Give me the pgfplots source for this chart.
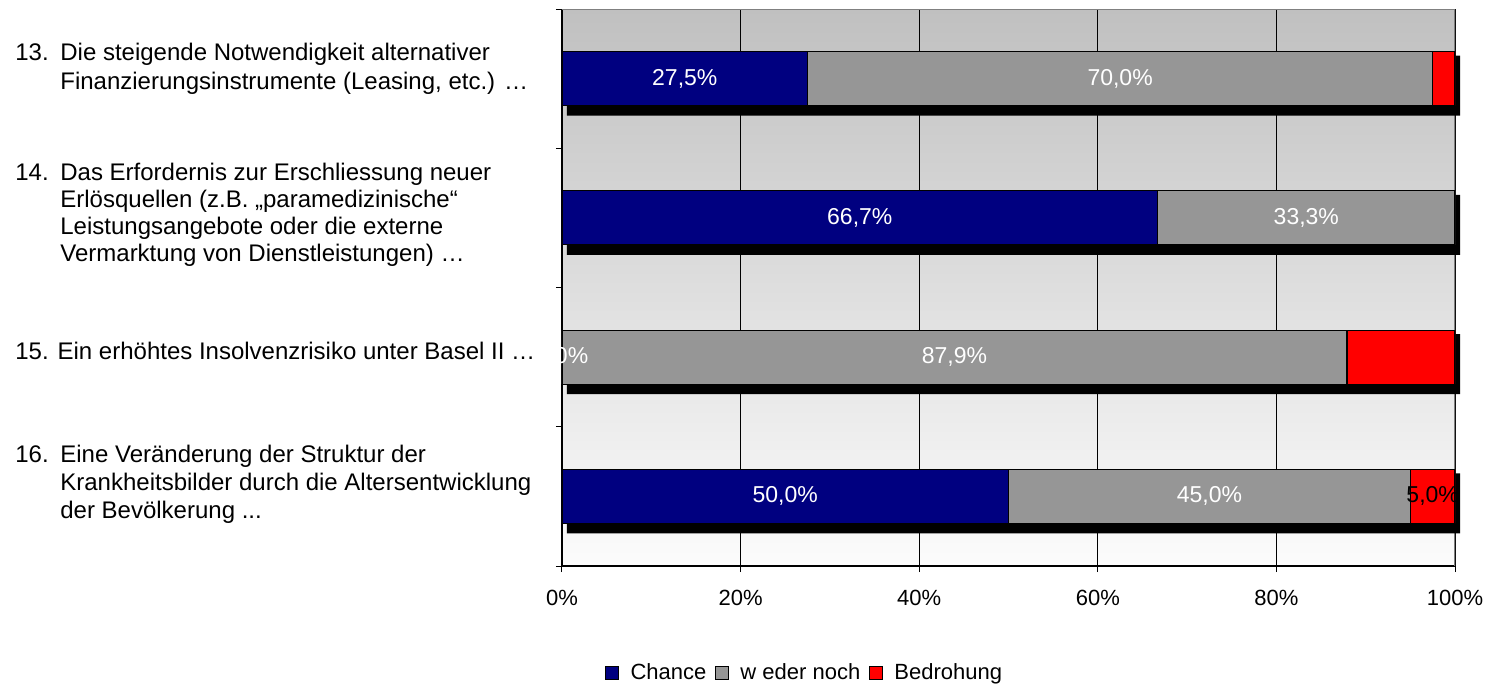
\documentclass[border=0pt]{standalone}
\usepackage{pgfplots}
\pgfplotsset{compat=1.18}
\usepackage{fontspec}
\setmainfont{Liberation Sans}

\definecolor{chance}{HTML}{000080}
\definecolor{weder}{HTML}{969696}
\definecolor{bedroh}{HTML}{FF0000}
\definecolor{bgtop}{HTML}{C0C0C0}
\definecolor{bgbot}{HTML}{FCFCFC}
\definecolor{boxgray}{HTML}{808080}

\newcommand\lblfont{\fontsize{11.5}{13}\selectfont}
\newcommand\tickfont{\fontsize{11}{13}\selectfont}
\newcommand\itemfont{\fontsize{12}{14}\selectfont}

\pgfplotsset{
  base/.style={
    anchor=south west,
    scale only axis, width=446.5pt, height=278.5pt,
    xmin=0, xmax=100, ymin=-0.5, ymax=3.5,
  },
}

\begin{document}
\begin{tikzpicture}
\path[use as bounding box] (-281pt,-60pt) rectangle (466pt,283pt);

% frame, background, grid and ticks
\begin{axis}[base, at={(0,0)},
  axis x line*=bottom, axis y line*=left,
  axis line style={black, line width=0.6pt, -},
  xtick={0,20,40,60,80,100},
  xticklabels={0\%,20\%,40\%,60\%,80\%,100\%},
  ytick={-0.5,0.5,1.5,2.5,3.5}, yticklabels={},
  tick align=outside, major tick length=3pt,
  tick style={black, line width=0.5pt},
  xmajorgrids, major x grid style={black, line width=0.5pt},
  axis background/.style={top color=bgtop, bottom color=bgbot},
  xticklabel style={font=\tickfont, yshift=-5.5pt},
]
\draw[boxgray, line width=1pt] (rel axis cs:0,1) -- (rel axis cs:1,1) -- (rel axis cs:1,0);
\end{axis}

% solid drop shadow behind each bar (total = 100 %)
\begin{axis}[base, at={(2.5pt,-3.5pt)}, hide axis, clip=false,
  xbar, bar width=30pt]
\addplot[fill=black, draw=none] coordinates {(100,3) (100,2) (100,1) (100,0)};
\end{axis}

% stacked shares
\begin{axis}[base, at={(0,0)}, hide axis,
  xbar stacked, bar width=27pt,
  legend image code/.code={
    \draw[#1, draw=black, line width=0.5pt] (0pt,-3.25pt) rectangle (6.5pt,3.25pt);
    \path (10pt,0pt);},
  legend style={at={(0.273,-0.192)}, anchor=center, draw=none, fill=none,
    legend columns=-1, font=\fontsize{11}{13}\selectfont,
    /tikz/every even column/.append style={column sep=2.5pt}},
]
% y: 3 = item 13, 2 = item 14, 1 = item 15, 0 = item 16
\addplot[fill=chance, draw=black, line width=0.6pt]
  coordinates {(27.5,3) (66.7,2) (0,1) (50.0,0)};
\addlegendentry{Chance}
\addplot[fill=weder, draw=black, line width=0.6pt]
  coordinates {(70.0,3) (33.3,2) (87.9,1) (45.0,0)};
\addlegendentry{w eder noch}
\addplot[fill=bedroh, draw=black, line width=0.6pt]
  coordinates {(2.5,3) (0,2) (12.1,1) (5.0,0)};
\addlegendentry{Bedrohung}

% anchors for the share labels (segment centres)
\coordinate (a1) at (axis cs:13.75,3);
\coordinate (a2) at (axis cs:62.5,3);
\coordinate (b1) at (axis cs:33.35,2);
\coordinate (b2) at (axis cs:83.35,2);
\coordinate (c0) at (axis cs:0,1);
\coordinate (c2) at (axis cs:43.95,1);
\coordinate (d1) at (axis cs:25,0);
\coordinate (d2) at (axis cs:72.5,0);
\coordinate (d3) at (axis cs:97.5,0);
\coordinate (plotsw) at (rel axis cs:0,0);
\coordinate (plotne) at (rel axis cs:1,1);
\end{axis}

% share labels on top of the bars
\begin{scope}[every node/.style={font=\lblfont, text=white}]
  \node at (a1) {27,5\%};
  \node at (a2) {70,0\%};
  \node at (b1) {66,7\%};
  \node at (b2) {33,3\%};
  \node at (c2) {87,9\%};
  \node at (d1) {50,0\%};
  \node at (d2) {45,0\%};
  \node[text=black] at (d3) {5,0\%};
\end{scope}
% label of the zero share, cut at the plot edge
\begin{scope}
  \clip (plotsw) rectangle (plotne);
  \node[text=white, font=\lblfont] at (c0) {0,0\%};
\end{scope}

% item texts
\begin{scope}[every node/.style={anchor=base west, inner sep=0pt, font=\itemfont}]
  \node at (-273.5pt,252.5pt) {13.};
  \node at (-251pt,252.5pt) {Die steigende Notwendigkeit alternativer};
  \node at (-251pt,238pt) {Finanzierungsinstrumente (Leasing, etc.) …};
  \node at (-273.5pt,192.5pt) {14.};
  \node at (-251pt,192.5pt) {Das Erfordernis zur Erschliessung neuer};
  \node at (-251pt,179pt) {Erlösquellen (z.B. „paramedizinische“};
  \node at (-251pt,165.5pt) {Leistungsangebote oder die externe};
  \node at (-251pt,152pt) {Vermarktung von Dienstleistungen) …};
  \node at (-273.5pt,103pt) {15. Ein erhöhtes Insolvenzrisiko unter Basel II …};
  \node at (-273.5pt,52pt) {16.};
  \node at (-251pt,52pt) {Eine Veränderung der Struktur der};
  \node at (-251pt,38pt) {Krankheitsbilder durch die Altersentwicklung};
  \node at (-251pt,24pt) {der Bevölkerung ...};
\end{scope}
\end{tikzpicture}
\end{document}
